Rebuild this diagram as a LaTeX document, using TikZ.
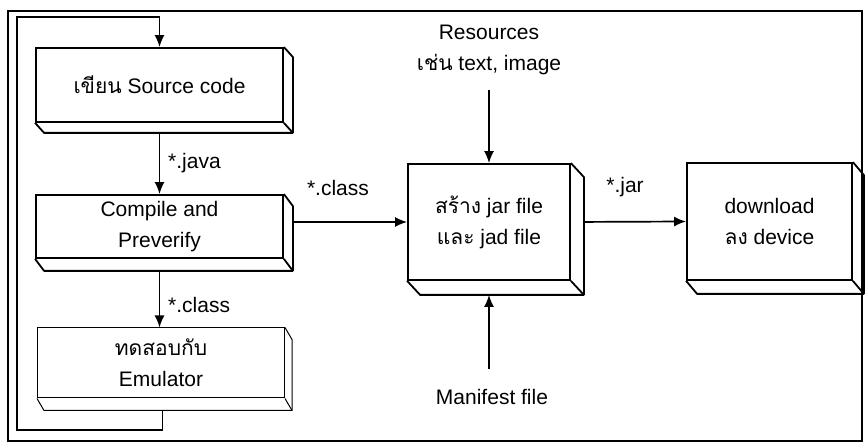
\documentclass[tikz,border=0pt]{standalone}
\usepackage{fontspec}
\setmainfont{Liberation Sans}
\newfontfamily\thaifont[Script=Thai]{Loma}
\usetikzlibrary{positioning,calc,arrows.meta}

\newcommand{\thaitxt}[1]{{\thaifont #1}}
% right and bottom faces of a box node
\newcommand{\slab}[4][]{%
  \draw[line width=1.8pt,line join=round,#1] (#2.north east) -- ++(#3,#4) -- ($(#2.south east)+(#3,#4)$)
    -- ($(#2.south west)+(#3,#4)$) -- (#2.south west);
  \draw[line width=1.8pt,#1] (#2.south east) -- ++(#3,#4);}

\begin{document}
\begin{tikzpicture}[x=1pt,y=-1pt,font=\fontsize{21}{31}\selectfont,
    box/.style={draw,line width=1.8pt,fill=white,align=center,inner sep=0pt},
    flow/.style={line width=1.7pt,-{Latex[length=12pt,width=10pt]}},
    lbl/.style={inner sep=1pt,align=center}
  ]
  \useasboundingbox (0,0) rectangle (865,443);
  \draw[line width=1.8pt] (8,11) rectangle (862,441);

  % boxes
  \node[box,minimum width=247pt,minimum height=74pt] (src) at (159.5,85) {\thaitxt{เขียน} Source code};
  \node[box,minimum width=247pt,minimum height=63pt] (cmp) at (159.5,226.5) {Compile and\\Preverify};
  \node[box,line width=1pt,minimum width=247pt,minimum height=70pt] (emu) at (161,363) {\thaitxt{ทดสอบกับ}\\Emulator};
  \node[box,minimum width=162pt,minimum height=116pt] (jar) at (489,222) {\thaitxt{สร้าง} jar file\\\thaitxt{และ} jad file};
  \node[box,minimum width=165pt,minimum height=117pt] (dl) at (769.5,221.5) {download\\\thaitxt{ลง} device};
  \slab{src}{9}{10}
  \slab{cmp}{9}{12}
  \slab[line width=1pt]{emu}{7}{12}
  \slab{jar}{13}{14}
  \slab{dl}{11}{13}

  % labels
  \node[lbl,anchor=west] (java) at (167,163) {*.java};
  \node[lbl,anchor=west] (cls1) at (167,305) {*.class};
  \node[lbl] (cls2) at (338,188) {*.class};
  \node[lbl] (jarl) at (625,187) {*.jar};
  \node[lbl] (res) at (489,50) {Resources\\\thaitxt{เช่น} text, image};
  \node[lbl] (man) at (492,397) {Manifest file};

  % arrows
  \coordinate (lpbot) at (17,430);
  \coordinate (lptop) at (17,17);
  \draw[flow,shorten <=10pt] (src.south) -- (cmp.north);
  \draw[flow,shorten <=12pt] (cmp.south) -- (emu.north -| cmp.south);
  \draw[flow,shorten <=9pt] (jar.west -| cmp.east) -- (jar.west);
  \draw[flow,shorten <=13pt] (jar.east) -- (dl.west);
  \draw[flow,shorten <=14pt] (res.south) -- (jar.north);
  \draw[flow,shorten <=19pt,shorten >=14pt] (jar.south |- man.north) -- (jar.south);
  \draw[flow] (emu.south) ++(1.5,12) |- (lpbot) -- (lptop) -| (src.north);
\end{tikzpicture}
\end{document}
